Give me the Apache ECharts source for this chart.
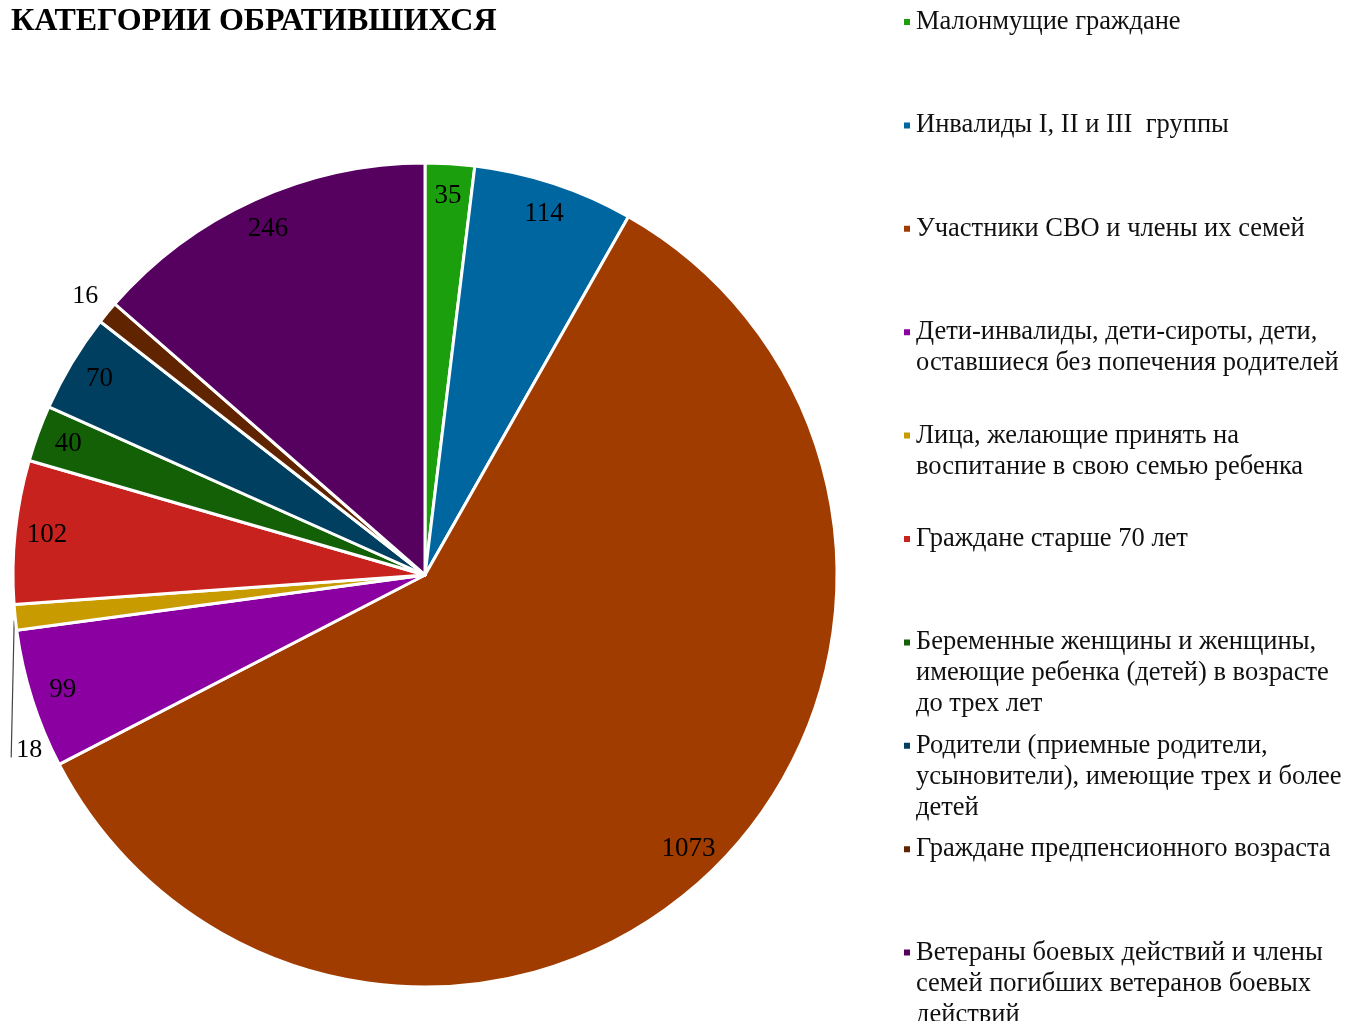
<!DOCTYPE html>
<html>
<head>
<meta charset="utf-8">
<title>Категории обратившихся</title>
<script src="https://cdn.jsdelivr.net/npm/echarts@6/dist/echarts.min.js"></script>
<style>
  html, body { margin: 0; padding: 0; background: #fff; }
  #chart { width: 1361px; height: 1021px; }
</style>
</head>
<body>
<div id="chart"></div>
<script>
// categories in legend order (clockwise from 12 o'clock)
const categories = [
  "Малонмущие граждане",
  "Инвалиды I, II и III  группы",
  "Участники СВО и члены их семей",
  "Дети-инвалиды, дети-сироты, дети,\nоставшиеся без попечения родителей",
  "Лица, желающие принять на\nвоспитание в свою семью ребенка",
  "Граждане старше 70 лет",
  "Беременные женщины и женщины,\nимеющие ребенка (детей) в возрасте\nдо трех лет",
  "Родители (приемные родители,\nусыновители), имеющие трех и более\nдетей",
  "Граждане предпенсионного возраста",
  "Ветераны боевых действий и члены\nсемей погибших ветеранов боевых\nдействий"
];
const values = [35, 114, 1073, 99, 18, 102, 40, 70, 16, 246];
const colors = [
  "#1c9f0c", "#0066a0", "#a03c00", "#8a00a0", "#c89b00",
  "#c8221e", "#136006", "#003f60", "#602400", "#560060"
];

const FONT = "'Liberation Serif', 'Times New Roman', serif";
const LINE = 31;
const cx = 425, cy = 575, R = 412;

const chart = echarts.init(document.getElementById("chart"));

// one legend block per category so the rows keep an even pitch;
// blank lines above the text put the marker on the first line
const legends = categories.map((name, i) => {
  const n = name.split("\n").length;
  return {
    orient: "vertical",
    left: 897,
    top: 17 + i * 103.4 - (2 * n - 1) * LINE / 2,
    itemWidth: 8,
    itemHeight: 8,
    icon: "rect",
    selectedMode: false,
    data: [name],
    formatter: t => " \n".repeat(n - 1) + t,
    textStyle: {
      fontFamily: FONT,
      fontSize: 26.5,
      color: "#111",
      lineHeight: LINE
    }
  };
});

const isSmall = v => v < 30;

const option = {
  animation: false,
  title: {
    text: "КАТЕГОРИИ ОБРАТИВШИХСЯ",
    left: 6,
    top: 1,
    textStyle: { fontFamily: FONT, fontWeight: "bold", fontSize: 32, color: "#000" }
  },
  legend: legends,
  color: colors,
  series: [
    {
      name: "main",
      type: "pie",
      center: [cx, cy],
      radius: R,
      startAngle: 90,
      clockwise: true,
      avoidLabelOverlap: false,
      itemStyle: { borderColor: "#fff", borderWidth: 3 },
      emphasis: { disabled: true },
      data: categories.map((name, i) => ({
        name,
        value: values[i],
        label: {
          show: isSmall(values[i]),
          position: "outside",
          formatter: "{c}",
          fontFamily: FONT,
          fontSize: 26,
          color: "#000"
        },
        labelLine: {
          show: values[i] === 18,
          length: 26,
          length2: 0,
          lineStyle: { color: "#444", width: 1.2 }
        }
      })),
      labelLayout: params => {
        const pts = params.labelLinePoints;
        if (!pts) return {};
        if (params.text === "18") {
          const p = pts[0];
          return {
            x: p[0] + 1,
            y: p[1] + 133,
            align: "left",
            verticalAlign: "middle",
            labelLinePoints: [[p[0] - 1, p[1] + 3], [p[0] - 4, p[1] + 140], [p[0] - 4, p[1] + 140]]
          };
        }
        return { x: pts[1][0] - 2, y: pts[1][1], align: "center", verticalAlign: "middle" };
      }
    },
    {
      // transparent ring that places the inner labels near the rim
      name: "labels",
      type: "pie",
      center: [cx, cy],
      radius: [R * 0.83, R],
      startAngle: 90,
      clockwise: true,
      silent: true,
      itemStyle: { color: "rgba(0,0,0,0)", borderWidth: 0 },
      emphasis: { disabled: true },
      labelLine: { show: false },
      data: categories.map((name, i) => ({
        name,
        value: values[i],
        label: {
          show: !isSmall(values[i]),
          position: "inside",
          formatter: "{c}",
          fontFamily: FONT,
          fontSize: 27,
          color: "#000"
        }
      }))
    }
  ]
};

chart.setOption(option);
</script>
</body>
</html>
